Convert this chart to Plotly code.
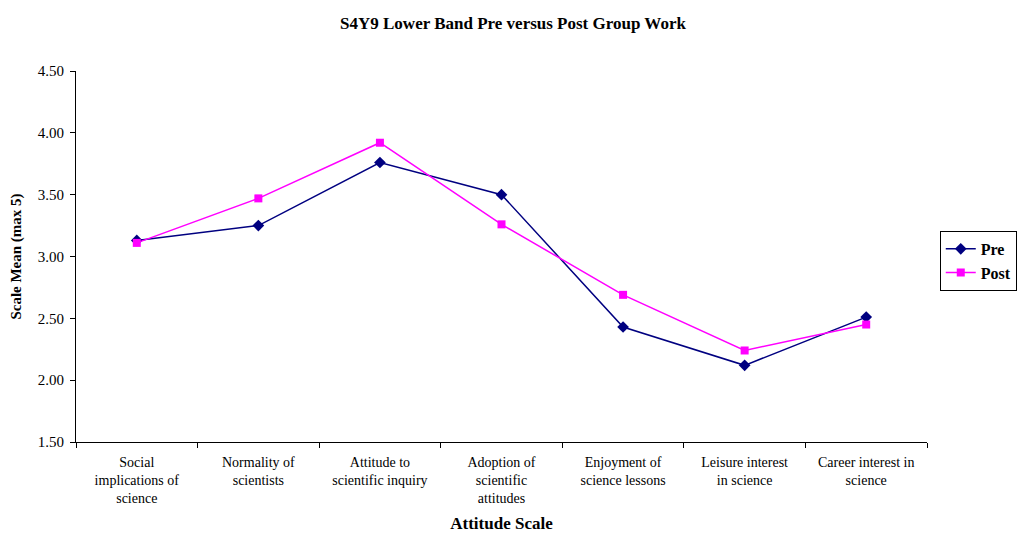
import plotly.graph_objects as go

categories = [
    "Social<br>implications of<br>science",
    "Normality of<br>scientists",
    "Attitude to<br>scientific inquiry",
    "Adoption of<br>scientific<br>attitudes",
    "Enjoyment of<br>science lessons",
    "Leisure interest<br>in science",
    "Career interest in<br>science",
]
pre_values = [3.13, 3.25, 3.76, 3.50, 2.43, 2.12, 2.51]
post_values = [3.11, 3.47, 3.92, 3.26, 2.69, 2.24, 2.45]

FONT = "Liberation Serif, Times New Roman, serif"

fig = go.Figure()
fig.add_trace(go.Scatter(
    x=categories, y=pre_values, name="<b>Pre</b>", mode="lines+markers",
    line=dict(color="#000080", width=1.5),
    marker=dict(symbol="diamond", size=9, color="#000080"),
))
fig.add_trace(go.Scatter(
    x=categories, y=post_values, name="<b>Post</b>", mode="lines+markers",
    line=dict(color="#FF00FF", width=1.5),
    marker=dict(symbol="square", size=8, color="#FF00FF"),
))

fig.update_layout(
    width=1021, height=525,
    margin=dict(l=68, r=99, t=63, b=91),
    paper_bgcolor="white", plot_bgcolor="white",
    font=dict(family=FONT, size=14, color="black"),
    title=dict(text="<b>S4Y9 Lower Band Pre versus Post Group Work</b>",
               x=0.4946, xanchor="center", y=0.972, yanchor="middle",
               font=dict(family=FONT, size=17)),
    showlegend=True,
    legend=dict(x=1.015, xanchor="left", y=0.569, yanchor="top",
                bordercolor="black", borderwidth=1, bgcolor="white",
                font=dict(family=FONT, size=16), tracegroupgap=0,
                itemwidth=30),
)
fig.update_xaxes(
    type="category", range=[-0.5, 6.5], automargin=False,
    showline=True, linecolor="black", linewidth=1,
    ticks="outside", tickson="boundaries", ticklen=5, tickcolor="black",
    showgrid=False, tickfont=dict(family=FONT, size=14), ticklabelstandoff=7,
    title=dict(text="<b>Attitude Scale</b>", font=dict(family=FONT, size=17), standoff=28),
)
fig.update_yaxes(
    range=[1.5, 4.5], dtick=0.5, tickformat=".2f", automargin=False,
    showline=True, linecolor="black", linewidth=1,
    ticks="outside", ticklen=5, tickcolor="black", ticklabelstandoff=3,
    showgrid=False, zeroline=False, tickfont=dict(family=FONT, size=15),
    title=dict(text="<b>Scale Mean (max 5)</b>", font=dict(family=FONT, size=15), standoff=14),
)

fig.write_html("out.html")
